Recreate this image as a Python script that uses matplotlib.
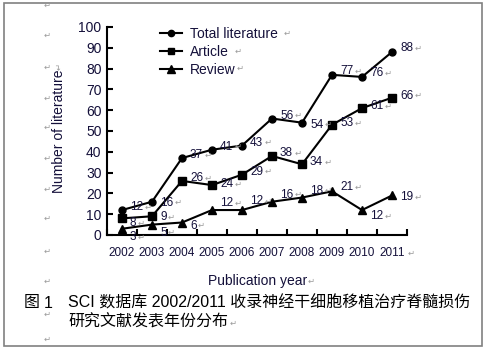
import matplotlib.pyplot as plt
from matplotlib.patches import Rectangle

years = ['2002', '2003', '2004', '2005', '2006', '2007', '2008', '2009', '2010', '2011']
total = [12, 16, 37, 41, 43, 56, 54, 77, 76, 88]
article = [8, 9, 26, 24, 29, 38, 34, 53, 61, 66]
review = [3, 5, 6, 12, 12, 16, 18, 21, 12, 19]

# label offsets in pixels (dx, dy)
total_off = [(8, 3), (8, -1), (8, 3), (8, 3), (8, 3), (8, 3), (8, -2), (8, 4), (8, 4), (8, 4)]
article_off = [(8, -5), (8, -1), (8, 3), (8, 1), (8, 3), (8, 3), (8, 2), (8, 2), (8, 2), (8, 2)]
review_off = [(8, -8), (8, -8), (8, -3), (8, 7), (8, 9), (8, 7), (8, 7), (8, 4), (8, -6), (8, -2)]

W, H = 486, 351
MARK = '#9a9a9a'
TXT = '#14103a'
plt.rcParams['font.family'] = ['Liberation Sans', 'DejaVu Sans']


def fx(x):
    return x / W


def fy(y):
    return 1 - y / H


fig = plt.figure(figsize=(W / 100, H / 100), dpi=100)
fig.add_artist(Rectangle((fx(4), fy(346)), fx(478), 343 / H, transform=fig.transFigure,
                         fill=False, edgecolor='#808080', lw=1.2))

ax = fig.add_axes([fx(107), fy(235), 300 / W, 208 / H])
x = list(range(len(years)))
ax.plot(x, total, color='black', lw=1.5, marker='o', ms=5, label='Total literature')
ax.plot(x, article, color='black', lw=1.5, marker='s', ms=5.5, label='Article')
ax.plot(x, review, color='black', lw=1.5, marker='^', ms=6, label='Review')

for vals, offs in [(total, total_off), (article, article_off), (review, review_off)]:
    for i, (v, (dx, dy)) in enumerate(zip(vals, offs)):
        ax.annotate(str(v), (i, v), xytext=(dx, dy), textcoords='offset pixels',
                    ha='left', va='center', fontsize=8.5, color=TXT)
        ax.annotate('\u21b5', (i, v), xytext=(dx + 6.7 * len(str(v)) + 1, dy),
                    textcoords='offset pixels', ha='left', va='center',
                    fontsize=6, color=MARK, family='DejaVu Sans')

ax.set_xlim(-0.5, 9.5)
ax.set_ylim(0, 100)
ax.set_yticks(range(0, 101, 10))
ax.set_xticks([i - 0.5 for i in range(11)])
ax.set_xticklabels([])
ax.set_xticks(x, minor=True)
ax.set_xticklabels(years, minor=True, fontsize=8.5, color=TXT)
ax.tick_params(axis='x', which='major', direction='in', length=4, width=1.5)
ax.tick_params(axis='x', which='minor', length=0, pad=8.5)
ax.tick_params(axis='y', direction='in', length=4, width=1.5, labelsize=10, pad=4,
               labelcolor=TXT)
for s in ['top', 'right']:
    ax.spines[s].set_visible(False)
for s in ['left', 'bottom']:
    ax.spines[s].set_linewidth(1.5)

ax.set_ylabel('Number of literature', fontsize=10, color=TXT)
ax.yaxis.set_label_coords((66 - 107) / 300, 0.5)

ax.legend(loc='upper left', bbox_to_anchor=(fx(153), fy(20)), bbox_transform=fig.transFigure,
          frameon=False, fontsize=10, handlelength=1.6, handletextpad=0.55,
          labelspacing=0.28, borderpad=0, labelcolor=TXT, markerscale=0.9)

fig.text(fx(258), fy(281), 'Publication year', ha='center', va='center', fontsize=10, color=TXT)

# caption
cap = ['Liberation Sans', 'Noto Sans CJK SC']
fig.text(fx(24), fy(303), '图', ha='left', va='center', fontsize=11.5, family=cap, color='black')
fig.text(fx(44), fy(303), '1', ha='left', va='center', fontsize=11.5, family=cap, color='black')
fig.text(fx(68), fy(303), 'SCI 数据库 2002/2011 收录神经干细胞移植治疗脊髓损伤', ha='left',
         va='center', fontsize=11.5, family=cap, color='black')
fig.text(fx(68), fy(322), '研究文献发表年份分布', ha='left', va='center', fontsize=11.5,
         family=cap, color='black')

# paragraph marks
for yy in [5, 35, 67, 98, 127, 158, 189, 218, 251, 281, 314, 339]:
    fig.text(fx(47), fy(yy), '\u21b5', ha='center', va='center', fontsize=6,
             color=MARK, family='DejaVu Sans')
for xx, yy in [(287, 33), (238, 51), (240, 68), (411, 253), (311, 281), (233, 323)]:
    fig.text(fx(xx), fy(yy), '\u21b5', ha='center', va='center', fontsize=6,
             color=MARK, family='DejaVu Sans')
fig.text(fx(59), fy(66), '\u21b5', ha='center', va='center', fontsize=6, rotation=90,
         color=MARK, family='DejaVu Sans')

fig.savefig('out.png', dpi=100)
